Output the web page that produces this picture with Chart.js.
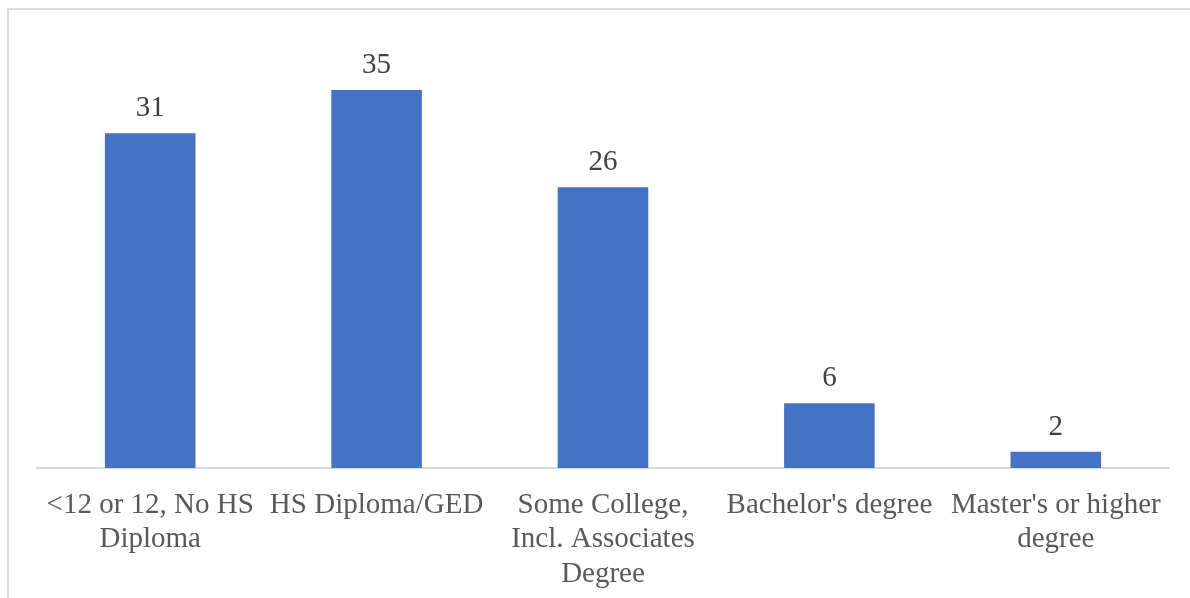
<!DOCTYPE html>
<html>
<head>
<meta charset="utf-8">
<script src="https://cdn.jsdelivr.net/npm/chart.js@4"></script>
<style>
  html, body { margin: 0; padding: 0; background: #fff; overflow: hidden; }
  #frame {
    position: absolute; left: 7px; top: 8px; width: 1200px; height: 620px;
    border: 2px solid #dcdcdc; box-sizing: border-box;
  }
  #wrap { position: absolute; left: 0; top: 0; width: 1190px; height: 598px; }
</style>
</head>
<body>
<div id="frame"></div>
<div id="wrap"><canvas id="eduChart"></canvas></div>
<script>
const categories = [
  ['<12 or 12, No HS', 'Diploma'],
  'HS Diploma/GED',
  ['Some College,', 'Incl. Associates', 'Degree'],
  "Bachelor's degree",
  ["Master's or higher", 'degree']
];
// last bar is drawn shorter than 2 in the source, label is rounded
const values = [31, 35, 26, 6, 1.5];

// draws the value above each bar
const barValues = {
  id: 'barValues',
  afterDatasetsDraw(chart) {
    const ctx = chart.ctx;
    const meta = chart.getDatasetMeta(0);
    ctx.save();
    ctx.font = '29px "Liberation Serif", "Times New Roman", serif';
    ctx.fillStyle = '#404040';
    ctx.textAlign = 'center';
    ctx.textBaseline = 'alphabetic';
    meta.data.forEach((bar, i) => {
      ctx.fillText(values[i].toFixed(0), bar.x, bar.y - 17);
    });
    ctx.restore();
  }
};

const ctx = document.getElementById('eduChart').getContext('2d');
new Chart(ctx, {
  type: 'bar',
  data: {
    labels: categories,
    datasets: [{
      data: values,
      backgroundColor: '#4472C4',
      borderWidth: 0,
      barPercentage: 0.4,
      categoryPercentage: 1
    }]
  },
  options: {
    responsive: true,
    maintainAspectRatio: false,
    animation: false,
    layout: { padding: { left: 37, right: 21, top: 36, bottom: 0 } },
    plugins: {
      legend: { display: false },
      tooltip: { enabled: false }
    },
    scales: {
      x: {
        grid: { display: false },
        border: { display: true, color: '#d9d9d9', width: 2 },
        ticks: {
          color: '#595959',
          padding: 12,
          maxRotation: 0,
          autoSkip: false,
          font: { family: '"Liberation Serif", "Times New Roman", serif', size: 29, lineHeight: 1.19 }
        },
        afterFit(scale) { scale.height = 130; }
      },
      y: {
        display: false,
        min: 0,
        max: 40
      }
    }
  },
  plugins: [barValues]
});
</script>
</body>
</html>
